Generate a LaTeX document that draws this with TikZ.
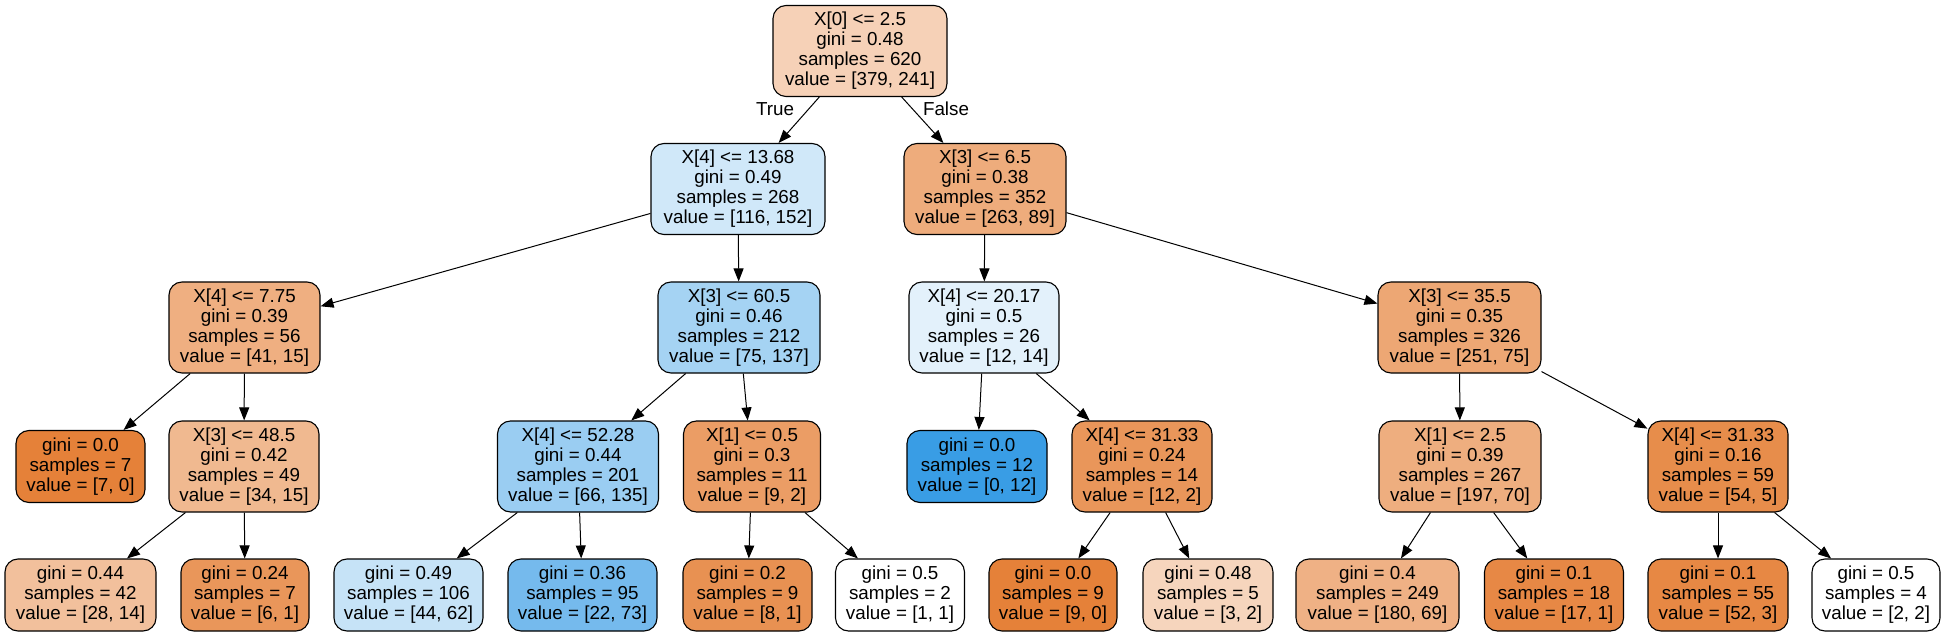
\documentclass[tikz,border=0pt]{standalone}
\usepackage{fontspec}
\setmainfont{Liberation Sans}
\usetikzlibrary{arrows.meta}
\definecolor{cls0}{RGB}{229,129,57}
\definecolor{cls1}{RGB}{57,157,229}
\tikzset{
  tnode/.style={draw=black, line width=1.1pt, rounded corners=13pt, align=center,
    inner sep=0pt, font=\fontsize{18.8}{20}\selectfont},
  big/.style={minimum height=91pt},
  small/.style={minimum height=72pt},
  edge/.style={draw=black, line width=1pt, -{Triangle[length=13pt,width=10pt]}},
  elab/.style={font=\fontsize{18.8}{20}\selectfont, inner sep=0pt},
}
\begin{document}
\begin{tikzpicture}[x=1pt,y=-1pt]
\useasboundingbox (0,0) rectangle (1947,636);
% level 0
\node[tnode,big,minimum width=174pt,fill=cls0!36.4!white] (n0) at (860,51) {X[0] <= 2.5\\gini = 0.48\\samples = 620\\value = [379, 241]};
% level 1
\node[tnode,big,minimum width=174pt,fill=cls1!23.7!white] (n1) at (738,189) {X[4] <= 13.68\\gini = 0.49\\samples = 268\\value = [116, 152]};
\node[tnode,big,minimum width=162pt,fill=cls0!66.2!white] (n2) at (985,189) {X[3] <= 6.5\\gini = 0.38\\samples = 352\\value = [263, 89]};
% level 2
\node[tnode,big,minimum width=151pt,fill=cls0!63.4!white] (n3) at (244.5,327.5) {X[4] <= 7.75\\gini = 0.39\\samples = 56\\value = [41, 15]};
\node[tnode,big,minimum width=162pt,fill=cls1!45.3!white] (n4) at (739,327.5) {X[3] <= 60.5\\gini = 0.46\\samples = 212\\value = [75, 137]};
\node[tnode,big,minimum width=150pt,fill=cls1!14.3!white] (n5) at (984,327.5) {X[4] <= 20.17\\gini = 0.5\\samples = 26\\value = [12, 14]};
\node[tnode,big,minimum width=163pt,fill=cls0!70.1!white] (n6) at (1459.5,327.5) {X[3] <= 35.5\\gini = 0.35\\samples = 326\\value = [251, 75]};
% level 3
\node[tnode,small,minimum width=129pt,fill=cls0] (n7) at (80.5,466.5) {gini = 0.0\\samples = 7\\value = [7, 0]};
\node[tnode,big,minimum width=150pt,fill=cls0!55.9!white] (n8) at (244,466.5) {X[3] <= 48.5\\gini = 0.42\\samples = 49\\value = [34, 15]};
\node[tnode,big,minimum width=161pt,fill=cls1!51.1!white] (n9) at (578,466.5) {X[4] <= 52.28\\gini = 0.44\\samples = 201\\value = [66, 135]};
\node[tnode,big,minimum width=137pt,fill=cls0!77.8!white] (n10) at (752,466.5) {X[1] <= 0.5\\gini = 0.3\\samples = 11\\value = [9, 2]};
\node[tnode,small,minimum width=140pt,fill=cls1] (n11) at (977,466.5) {gini = 0.0\\samples = 12\\value = [0, 12]};
\node[tnode,big,minimum width=140pt,fill=cls0!83.3!white] (n12) at (1142,466.5) {X[4] <= 31.33\\gini = 0.24\\samples = 14\\value = [12, 2]};
\node[tnode,big,minimum width=162pt,fill=cls0!64.5!white] (n13) at (1460,466.5) {X[1] <= 2.5\\gini = 0.39\\samples = 267\\value = [197, 70]};
\node[tnode,big,minimum width=140pt,fill=cls0!90.7!white] (n14) at (1718,466.5) {X[4] <= 31.33\\gini = 0.16\\samples = 59\\value = [54, 5]};
% level 4
\node[tnode,small,minimum width=151pt,fill=cls0!50!white] (n15) at (80.5,595) {gini = 0.44\\samples = 42\\value = [28, 14]};
\node[tnode,small,minimum width=128pt,fill=cls0!83.3!white] (n16) at (245,595) {gini = 0.24\\samples = 7\\value = [6, 1]};
\node[tnode,small,minimum width=149pt,fill=cls1!29!white] (n17) at (408.5,595) {gini = 0.49\\samples = 106\\value = [44, 62]};
\node[tnode,small,minimum width=149pt,fill=cls1!69.9!white] (n18) at (582.5,595) {gini = 0.36\\samples = 95\\value = [22, 73]};
\node[tnode,small,minimum width=129pt,fill=cls0!87.5!white] (n19) at (747.5,595) {gini = 0.2\\samples = 9\\value = [8, 1]};
\node[tnode,small,minimum width=129pt,fill=white] (n20) at (900,595) {gini = 0.5\\samples = 2\\value = [1, 1]};
\node[tnode,small,minimum width=128pt,fill=cls0] (n21) at (1053,595) {gini = 0.0\\samples = 9\\value = [9, 0]};
\node[tnode,small,minimum width=130pt,fill=cls0!33.3!white] (n22) at (1208,595) {gini = 0.48\\samples = 5\\value = [3, 2]};
\node[tnode,small,minimum width=163pt,fill=cls0!61.7!white] (n23) at (1377.5,595) {gini = 0.4\\samples = 249\\value = [180, 69]};
\node[tnode,small,minimum width=139pt,fill=cls0!94.1!white] (n24) at (1554,595) {gini = 0.1\\samples = 18\\value = [17, 1]};
\node[tnode,small,minimum width=140pt,fill=cls0!94.2!white] (n25) at (1718,595) {gini = 0.1\\samples = 55\\value = [52, 3]};
\node[tnode,small,minimum width=128pt,fill=white] (n26) at (1876,595) {gini = 0.5\\samples = 4\\value = [2, 2]};
% edge labels
\node[elab] (lt) at (775,109) {True};
\node[elab] (lf) at (946,109) {False};
% edges
\draw[edge] (n0) -- (n1);
\draw[edge] (n0) -- (n2);
\draw[edge] (n1) -- (n3);
\draw[edge] (n1) -- (n4);
\draw[edge] (n2) -- (n5);
\draw[edge] (n2) -- (n6);
\draw[edge] (n3) -- (n7);
\draw[edge] (n3) -- (n8);
\draw[edge] (n4) -- (n9);
\draw[edge] (n4) -- (n10);
\draw[edge] (n5) -- (n11);
\draw[edge] (n5) -- (n12);
\draw[edge] (n6) -- (n13);
\draw[edge] (n6) -- (n14);
\draw[edge] (n8) -- (n15);
\draw[edge] (n8) -- (n16);
\draw[edge] (n9) -- (n17);
\draw[edge] (n9) -- (n18);
\draw[edge] (n10) -- (n19);
\draw[edge] (n10) -- (n20);
\draw[edge] (n12) -- (n21);
\draw[edge] (n12) -- (n22);
\draw[edge] (n13) -- (n23);
\draw[edge] (n13) -- (n24);
\draw[edge] (n14) -- (n25);
\draw[edge] (n14) -- (n26);
\end{tikzpicture}
\end{document}
